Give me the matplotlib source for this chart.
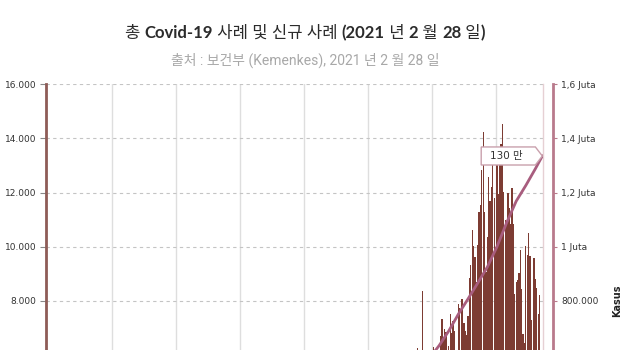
import matplotlib
matplotlib.use('Agg')
import matplotlib.pyplot as plt
import matplotlib.transforms as mtransforms
import matplotlib.dates as mdates
from matplotlib.patches import Polygon
import numpy as np
import pandas as pd

# daily new cases (Kemenkes), 23 Nov 2020 - 28 Feb 2021
days = pd.date_range('2020-11-23', '2021-02-28')
new_cases = [
    4442, 4192, 5534, 4917, 5828, 5418, 6267, 4617,
    5092, 5533, 8369, 5803, 6027, 6089, 5754, 6058, 5292, 6033, 6310, 5938, 6189, 5489,
    6120, 6726, 7354, 6689, 6982, 6848, 4854, 6347, 7514, 6809, 7259, 6877, 5854, 5752,
    7903, 7750, 8074,
    8072, 7203, 6877, 6753, 7445, 8854, 9321, 10617, 10046, 9640, 8692, 10047, 11278, 11557,
    12818, 14224, 11287, 9086, 10365, 12568, 11703, 12191, 13632, 11788, 9994, 13094, 11948,
    13695, 13802, 14518, 12001,
    10994, 10921, 11984, 11434, 10847, 12156, 10827, 8242, 8700, 8776, 9030, 9869, 8435, 6765,
    6462, 10029, 9687, 10500, 9667, 7300, 6156, 9600, 8800, 8493, 7533, 8232, 6208, 5560,
]

# total cases
cum_dates = pd.to_datetime(['2020-12-01', '2020-12-08', '2020-12-15', '2020-12-22', '2020-12-29',
                            '2021-01-05', '2021-01-12', '2021-01-19', '2021-01-26', '2021-02-02',
                            '2021-02-09', '2021-02-16', '2021-02-23', '2021-02-28'])
cum_cases = [543975, 590000, 636000, 690000, 752000, 808000, 866000, 925000, 1000000,
             1088000, 1168000, 1226000, 1288000, 1334634]

left_ticks = [0, 2000, 4000, 6000, 8000, 10000, 12000, 14000, 16000]
left_labels = ['0', '2.000', '4.000', '6.000', '8.000', '10.000', '12.000', '14.000', '16.000']
right_ticks = [0, 200000, 400000, 600000, 800000, 1000000, 1200000, 1400000, 1600000]
right_labels = ['0', '200.000', '400.000', '600.000', '800.000', '1 Juta', '1,2 Juta', '1,4 Juta', '1,6 Juta']
grid_dates = pd.date_range('2020-04-21', periods=7, freq='1118h')

title_parts = [('총 ', 'normal'), ('Covid-19', 'bold'), (' 사례 및 신규 사례 ', 'normal'),
               ('(2021', 'bold'), (' 년 ', 'normal'), ('2', 'bold'), (' 월 ', 'normal'),
               ('28', 'bold'), (' 일', 'normal'), (')', 'bold')]
subtitle = '출처 : 보건부 (Kemenkes), 2021 년 2 월 28 일'

W, H = 640, 350
fig = plt.figure(figsize=(6.4, 3.5), dpi=100)
# full plot area runs below the visible picture (0 is at y=518 px)
ax = fig.add_axes([46 / W, (H - 518) / H, 497 / W, 434 / H])

ax.bar(days, new_cases, width=0.9, color='#7d3c33', zorder=2)
ax.set_xlim(pd.Timestamp('2020-03-04'), pd.Timestamp('2021-02-28 12:00'))
ax.set_ylim(0, 16000)
ax.set_yticks(left_ticks)
ax.set_yticklabels(left_labels)
ax.set_xticks(grid_dates)
ax.tick_params(axis='x', length=0, labelbottom=False)
ax.tick_params(axis='y', length=4, width=0.8, color='#888888', pad=3,
               labelsize=6.5, labelcolor='#333333')
ax.yaxis.grid(True, linestyle=(0, (3, 3)), color='#c4c4c4', lw=0.8, zorder=0)
ax.xaxis.grid(True, linestyle='-', color='#dedede', lw=1, zorder=0)
ax.set_axisbelow(True)
ax.spines['top'].set_visible(False)
ax.spines['left'].set_color('#8e5c57')
ax.spines['left'].set_linewidth(2)
ax.spines['right'].set_color('#e6d0d4')
ax.spines['right'].set_linewidth(1)

ax2 = ax.twinx()
ax2.plot(cum_dates, cum_cases, color='#a85d7e', lw=2, zorder=3)
ax2.set_ylim(0, 1600000)
ax2.set_yticks(right_ticks)
ax2.set_yticklabels(right_labels)
ax2.tick_params(axis='y', length=3, width=0.8, color='#b97a8c', pad=3,
                labelsize=6.5, labelcolor='#333333')
for s in ['top', 'left', 'bottom']:
    ax2.spines[s].set_visible(False)
ax2.spines['right'].set_position(('outward', 7.2))
ax2.spines['right'].set_color('#b97a8c')
ax2.spines['right'].set_linewidth(2)
ax2.set_ylabel('Kasus', fontsize=7, fontweight='bold', color='#222222')
ax2.yaxis.set_label_coords((612 - 46) / 497, 0.5)

# tick labels below the visible part of the picture are not drawn
for axis, ticks in [(ax, left_ticks), (ax2, right_ticks)]:
    lim = axis.get_ylim()[1]
    for v, lab, tk in zip(ticks, axis.get_yticklabels(), axis.yaxis.get_major_ticks()):
        if v < lim * 0.45:
            lab.set_visible(False)
            tk.tick1line.set_visible(False)
            tk.tick2line.set_visible(False)

# callout on the last total value
xe = mdates.date2num(cum_dates[-1])
ye = cum_cases[-1]
tag = mtransforms.Affine2D().scale(fig.dpi / 72.0) + mtransforms.ScaledTranslation(xe, ye, ax2.transData)
ax2.add_patch(Polygon([(-44, -6.5), (-5, -6.5), (0, 0), (-5, 6.5), (-44, 6.5)], closed=True,
                      transform=tag, facecolor='white', edgecolor='#c9a0ac', lw=1,
                      clip_on=False, zorder=5))
ax2.annotate('130 만', xy=(cum_dates[-1], ye), xytext=(-26, 0), textcoords='offset points',
             ha='center', va='center', fontsize=7.5, color='#333333',
             family=['DejaVu Sans', 'Noto Sans CJK KR'], zorder=6)

# title with mixed weights, centred
renderer = fig.canvas.get_renderer()
texts, widths = [], []
for s, w in title_parts:
    t = fig.text(0, (H - 38) / H, s, fontsize=12, fontweight=w, color='#2b2b2b',
                 family=['Lato', 'Noto Sans CJK KR'], va='baseline', ha='left')
    texts.append(t)
    widths.append(t.get_window_extent(renderer).width)
x = 305 - sum(widths) / 2
for t, wd in zip(texts, widths):
    t.set_x(x / W)
    x += wd

fig.text(305 / W, (H - 65) / H, subtitle, fontsize=10, color='#a8a8a8',
         family=['Roboto', 'Noto Sans CJK KR'], va='baseline', ha='center')

fig.savefig('out.png', dpi=100)
